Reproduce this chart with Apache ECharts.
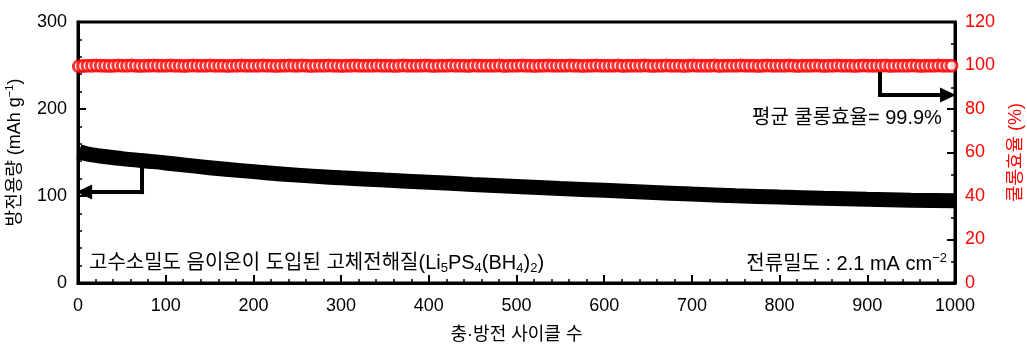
<!DOCTYPE html>
<html><head><meta charset="utf-8">
<script src="https://cdn.jsdelivr.net/npm/echarts@6/dist/echarts.min.js"></script>
<style>html,body{margin:0;padding:0;background:#fff}#c{width:1027px;height:349px}</style>
</head><body><div id="c"></div>
<script>
// Discharge capacity
const capCycles = [1, 10, 25, 50, 75, 100, 150, 200, 250, 300, 350, 400, 450, 500, 550, 600, 650, 700, 750, 800, 850, 900, 950, 1000];
const capValues = [151, 148.5, 146, 143, 140.5, 138, 132.5, 128, 124, 121, 118.3, 115.8, 113.3, 111, 108.7, 106.5, 104.3, 102.2, 100.4, 98.8, 97.4, 96.2, 95.2, 94.5];

// Coulombic efficiency, one marker every 5 cycles
const ceStartCycle = 1, ceStep = 5;
const ceValues = [
 99.6,99.8,99.9,99.9,100.0,99.9,99.9,99.8,99.9,100.0,
 99.9,99.9,100.0,99.9,99.8,99.9,99.9,100.0,99.9,99.9,
 99.9,100.0,99.9,99.9,99.8,99.9,100.0,99.9,99.9,99.9,
 100.0,99.9,99.9,99.9,99.8,99.9,99.9,100.0,99.9,99.9,
 99.9,99.9,100.0,99.9,99.9,99.8,99.9,99.9,100.0,99.9,
 99.9,100.0,99.9,99.8,99.9,99.9,99.9,100.0,99.9,99.9,
 99.8,99.9,99.9,100.0,99.9,99.9,99.9,99.9,100.0,99.9,
 99.9,99.9,99.8,99.9,100.0,99.9,99.9,99.9,99.9,100.0,
 99.9,99.8,99.9,99.9,99.9,100.0,99.9,99.9,99.9,99.8,
 100.0,99.9,99.9,99.9,99.9,99.9,100.0,99.8,99.9,99.9,
 99.9,100.0,99.9,99.9,99.8,99.9,99.9,100.0,99.9,99.9,
 99.9,99.9,100.0,99.9,99.9,99.8,99.9,99.9,100.0,99.9,
 99.9,99.9,99.9,100.0,99.8,99.9,99.9,99.9,99.9,100.0,
 99.9,99.8,99.9,99.9,100.0,99.9,99.9,99.9,99.8,99.9,
 100.0,99.9,99.9,99.9,99.9,100.0,99.8,99.9,99.9,99.9,
 99.9,100.0,99.9,99.9,99.9,99.8,99.9,100.0,99.9,99.9,
 99.9,99.9,100.0,99.9,99.8,99.9,99.9,99.9,100.0,99.9,
 99.8,99.9,99.9,100.0,99.9,99.9,99.9,99.8,99.9,100.0,
 99.9,99.9,99.9,99.9,100.0,99.8,99.9,99.9,99.9,99.9,
 100.0,99.9,99.8,99.9,99.9,99.9,100.0,99.9,99.9,99.9
];

// Axes
const xRange = [0, 1000, 100];
const yLeftRange = [0, 300, 100];
const yRightRange = [0, 120, 20];

// Texts
const xTitle = '충·방전 사이클 수';
const yLeftTitle = '방전용량 (mAh g{sup|−1})';
const yRightTitle = '쿨롱효율 (%)';
const noteAvg = '평균 쿨롱효율= 99.9%';
const noteMaterial = '고수소밀도 음이온이 도입된 고체전해질(Li{sub|5}PS{sub|4}(BH{sub|4}){sub|2})';
const noteCurrent = '전류밀도 : 2.1 mA cm{sup|−2}';

// Arrow anchors (data coordinates)
const capArrow = {x: 73, yTop: 136, yBottom: 104.5, tipX: 7};
const ceArrow = {x: 914.5, yTop: 97, yBottom: 86.4, tipX: 992};

const FONT = '"Liberation Sans", Arial, "Noto Sans CJK KR", sans-serif';
const RED = '#ff0000';

const capData = capCycles.map((c, i) => [c, capValues[i]]);
const ceData = ceValues.map((v, i) => [ceStartCycle + i * ceStep, v]);

const richAxis = {
  sup: {fontSize: 11, lineHeight: 12, verticalAlign: 'top', fontFamily: FONT}
};
const richNote = {
  sup: {fontSize: 13, lineHeight: 13, verticalAlign: 'top', fontFamily: FONT},
  sub: {fontSize: 13, lineHeight: 13, verticalAlign: 'bottom', fontFamily: FONT}
};

function axisCommon() {
  return {
    axisLine: {show: true, onZero: false, lineStyle: {color: '#000', width: 3}},
    axisTick: {show: true, inside: true, length: 8, lineStyle: {color: '#000', width: 2}},
    splitLine: {show: false}
  };
}

const chart = echarts.init(document.getElementById('c'), null, {renderer: 'canvas'});
const option = {
  animation: false,
  backgroundColor: '#fff',
  grid: {left: 78, right: 72, top: 22, bottom: 66, show: true, borderColor: '#000', borderWidth: 3,
         containLabel: false, outerBoundsMode: 'none'},
  xAxis: Object.assign(axisCommon(), {
    type: 'value', min: xRange[0], max: xRange[1], interval: xRange[2],
    minorTick: {show: true, splitNumber: 5, length: 4, lineStyle: {color: '#000', width: 1.5}},
    axisLabel: {color: '#000', fontSize: 18, fontFamily: FONT, margin: 14, formatter: v => String(v)},
    name: xTitle, nameLocation: 'middle', nameGap: 43,
    nameTextStyle: {fontSize: 18, fontFamily: FONT, color: '#000'}
  }),
  yAxis: [
    Object.assign(axisCommon(), {
      type: 'value', position: 'left', min: yLeftRange[0], max: yLeftRange[1], interval: yLeftRange[2],
      minorTick: {show: true, splitNumber: 5, length: 4, lineStyle: {color: '#000', width: 1.5}},
      axisLabel: {color: '#000', fontSize: 18, fontFamily: FONT, margin: 11, formatter: v => String(v)},
      name: yLeftTitle, nameLocation: 'middle', nameGap: 45, nameRotate: 90,
      nameTextStyle: {fontSize: 18, fontFamily: FONT, color: '#000', lineHeight: 22, rich: richAxis}
    }),
    Object.assign(axisCommon(), {
      type: 'value', position: 'right', min: yRightRange[0], max: yRightRange[1], interval: yRightRange[2],
      minorTick: {show: true, splitNumber: 2, length: 4, lineStyle: {color: '#000', width: 1.5}},
      axisLabel: {color: RED, fontSize: 18, fontFamily: FONT, margin: 10, formatter: v => String(v)},
      name: yRightTitle, nameLocation: 'middle', nameGap: 52, nameRotate: 90,
      nameTextStyle: {fontSize: 18, fontFamily: FONT, color: RED}
    })
  ],
  series: [
    {
      type: 'line', yAxisIndex: 0, data: capData, smooth: 0.5, showSymbol: false,
      lineStyle: {color: '#000', width: 15}, z: 3, silent: true,
      markLine: {
        silent: true, animation: false, symbol: ['none', 'none'],
        lineStyle: {color: '#000', width: 4, type: 'solid'}, label: {show: false},
        data: [
          [{coord: [capArrow.x, capArrow.yTop]}, {coord: [capArrow.x, capArrow.yBottom - 2.3]}],
          [{coord: [capArrow.x + 2.3, capArrow.yBottom], symbol: 'none'},
           {coord: [capArrow.tipX, capArrow.yBottom], symbol: 'triangle', symbolSize: [15, 16]}]
        ]
      }
    },
    {
      type: 'scatter', yAxisIndex: 1, data: ceData, symbol: 'circle', symbolSize: 11,
      itemStyle: {color: '#fff', borderColor: RED, borderWidth: 3}, z: 2, silent: true,
      markLine: {
        silent: true, animation: false, symbol: ['none', 'none'],
        lineStyle: {color: '#000', width: 4, type: 'solid'}, label: {show: false},
        data: [
          [{coord: [ceArrow.x, ceArrow.yTop]}, {coord: [ceArrow.x, ceArrow.yBottom - 0.9]}],
          [{coord: [ceArrow.x - 2.3, ceArrow.yBottom], symbol: 'none'},
           {coord: [ceArrow.tipX, ceArrow.yBottom], symbol: 'triangle', symbolSize: [15, 16]}]
        ]
      }
    }
  ],
  graphic: [
    {type: 'text', x: 752, y: 118, silent: true,
     style: {text: noteAvg, fill: '#000', fontSize: 20, fontFamily: FONT, verticalAlign: 'middle', align: 'left'}},
    {type: 'text', x: 89, y: 263, silent: true,
     style: {text: noteMaterial, fill: '#000', fontSize: 20, fontFamily: FONT, lineHeight: 24, verticalAlign: 'middle', align: 'left', rich: richNote}},
    {type: 'text', x: 947, y: 264, silent: true,
     style: {text: noteCurrent, fill: '#000', fontSize: 20, fontFamily: FONT, lineHeight: 24, verticalAlign: 'middle', align: 'right', rich: richNote}}
  ]
};
chart.setOption(option);
</script></body></html>
